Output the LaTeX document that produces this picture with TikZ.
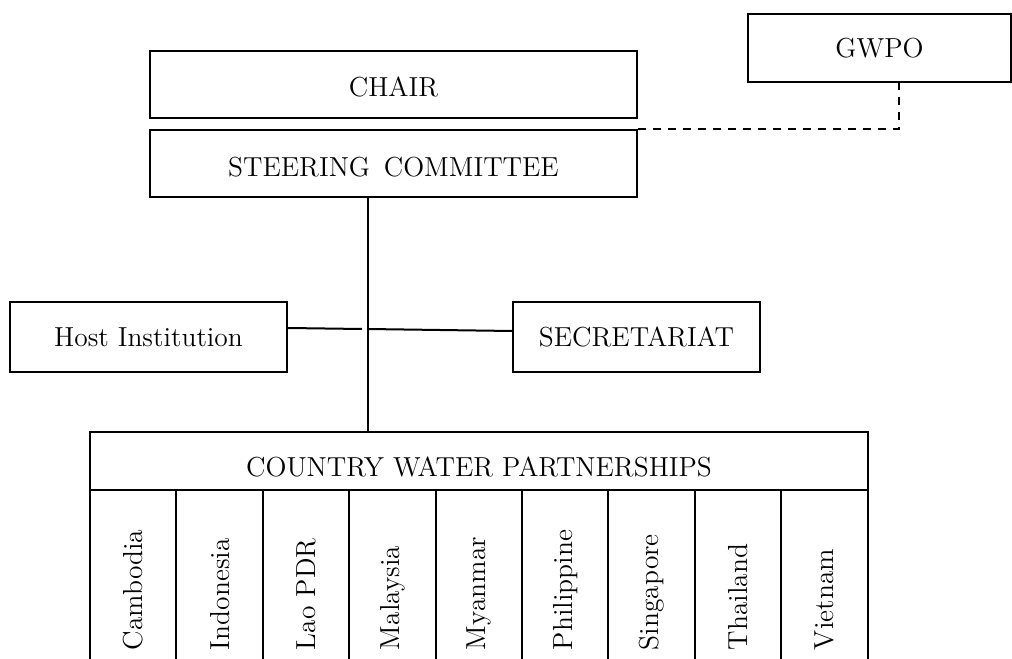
\documentclass[tikz,border=0pt]{standalone}
\usepackage{tikz}

\tikzset{
  box/.style 2 args={draw, line width=0.8pt, minimum width=#1, minimum height=#2, inner sep=0pt,
    font=\fontsize{11}{13}\selectfont},
  cname/.style={rotate=90, anchor=west, inner sep=0pt, font=\fontsize{11}{13}\selectfont}
}

\begin{document}
\begin{tikzpicture}[x=0.4pt, y=-0.4pt, line width=0.8pt]
\clip (0,0) rectangle (1012,659);

\node [box={194.8pt}{26.8pt}] (chair) at (393.5,84.5) {\raisebox{-5pt}[0pt][0pt]{CHAIR}};
\node [box={194.8pt}{26.8pt}] (steer) at (393.5,163.5) {\raisebox{-5pt}[0pt][0pt]{STEERING\enspace COMMITTEE}};
\node [box={105.2pt}{27.2pt}] (gwpo) at (879.5,48) {GWPO};

\node [box={110.8pt}{28pt}] (host) at (148.5,337) {Host Institution};
\node [box={98.8pt}{28pt}] (secr) at (636.5,337) {SECRETARIAT};

\node [box={311.2pt}{23.2pt}] (cwp) at (479,461) {\raisebox{-6.2pt}[0pt][0pt]{COUNTRY WATER PARTNERSHIPS}};

\coordinate (mid) at (368,329);

\draw [dashed] (steer.north east) -| ([xshift=7.8pt]gwpo.south);
\draw ([xshift=-10.2pt]steer.south) -- ([xshift=-10.2pt]steer.south |- cwp.north);
\draw ([yshift=3.6pt]host.east) -- ([xshift=-2.4pt]mid);
\draw (mid) -- ([yshift=2.4pt]secr.west);

\foreach \cname [count=\i from 0] in {Cambodia,Indonesia,Lao PDR,Malaysia,Myanmar,Philippine,Singapore,Thailand,Vietnam} {
  \draw (90+86.4*\i,490) rectangle ++(86.4,200);
  \node [cname] (c\i) at (133.2+86.4*\i,651) {\cname};
}
\end{tikzpicture}
\end{document}
